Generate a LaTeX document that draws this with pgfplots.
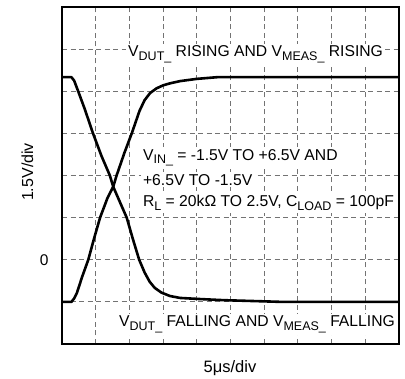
\documentclass[border=0pt]{standalone}
\usepackage{fontspec}
\setmainfont{Liberation Sans}
\usepackage{pgfplots}
\pgfplotsset{compat=1.18}
\newcommand\sub[1]{\raisebox{-0.25em}{\fontsize{12.5}{12.5}\selectfont #1}}
\begin{document}
\fontsize{15.7}{19}\selectfont
\begin{tikzpicture}
\useasboundingbox (0,0) rectangle (405pt,379pt);
\begin{axis}[at={(62pt,35pt)}, anchor=south west, scale only axis,
  width=337pt, height=337pt,
  xmin=0, xmax=10, ymin=-3, ymax=9,
  xtick={1,2,3,4,5,6,7,8,9}, ytick={-1.5,0,1.5,3,4.5,6,7.5},
  xticklabels={}, yticklabels={,0,,,,,},
  major tick length=0pt,
  grid=major,
  major grid style={black!55, dash pattern=on 5pt off 3.5pt, line width=0.9pt},
  axis line style={line width=2.6pt},
  yticklabel style={font=\fontsize{15.5}{15.5}\selectfont, xshift=-8pt},
  clip=false]
\addplot[black, line width=2.6pt, line join=round] coordinates {
(0,6.5)(0.28,6.5)(0.36,6.38)(0.48,6.0)(0.68,5.35)(0.92,4.5)(1.17,3.7)(1.42,3.0)(1.52,2.6)(1.72,2.05)(1.92,1.5)(2.1,0.75)(2.29,0)(2.45,-0.45)(2.6,-0.78)(2.75,-1.0)(2.95,-1.17)(3.2,-1.29)(3.5,-1.36)(4.1,-1.4)(4.8,-1.44)(5.67,-1.47)(6.5,-1.5)(10,-1.5)};
\addplot[black, line width=2.6pt, line join=round] coordinates {
(0,-1.5)(0.28,-1.5)(0.36,-1.38)(0.44,-1.19)(0.6,-0.6)(0.78,0)(0.95,0.75)(1.13,1.5)(1.35,2.2)(1.52,2.6)(1.62,3.0)(1.85,3.8)(2.07,4.5)(2.3,5.3)(2.45,5.68)(2.61,5.93)(2.8,6.1)(3.0,6.21)(3.2,6.28)(3.5,6.36)(4.0,6.44)(4.6,6.5)(10,6.5)};
\node[fill=white, anchor=base west, inner sep=2pt] at (axis cs:1.90,7.22) {V\sub{DUT\_} RISING AND V\sub{MEAS\_} RISING};
\node[fill=white, anchor=base west, inner sep=2pt] at (axis cs:2.34,3.55) {V\sub{IN\_} = -1.5V TO +6.5V AND};
\node[fill=white, anchor=base west, inner sep=2pt] at (axis cs:2.34,2.66) {+6.5V TO -1.5V};
\node[fill=white, anchor=base west, inner sep=2pt] at (axis cs:2.34,1.89) {R\sub{L} = 20kΩ TO 2.5V, C\sub{LOAD} = 100pF};
\node[fill=white, anchor=base west, inner sep=2pt] at (axis cs:1.63,-2.39) {V\sub{DUT\_} FALLING AND V\sub{MEAS\_} FALLING};
\end{axis}
\node[rotate=90, font=\fontsize{16}{16}\selectfont] at (27.5pt,207pt) {1.5V/div};
\node[font=\fontsize{16.5}{16.5}\selectfont] at (230pt,11pt) {5μs/div};
\end{tikzpicture}
\end{document}
